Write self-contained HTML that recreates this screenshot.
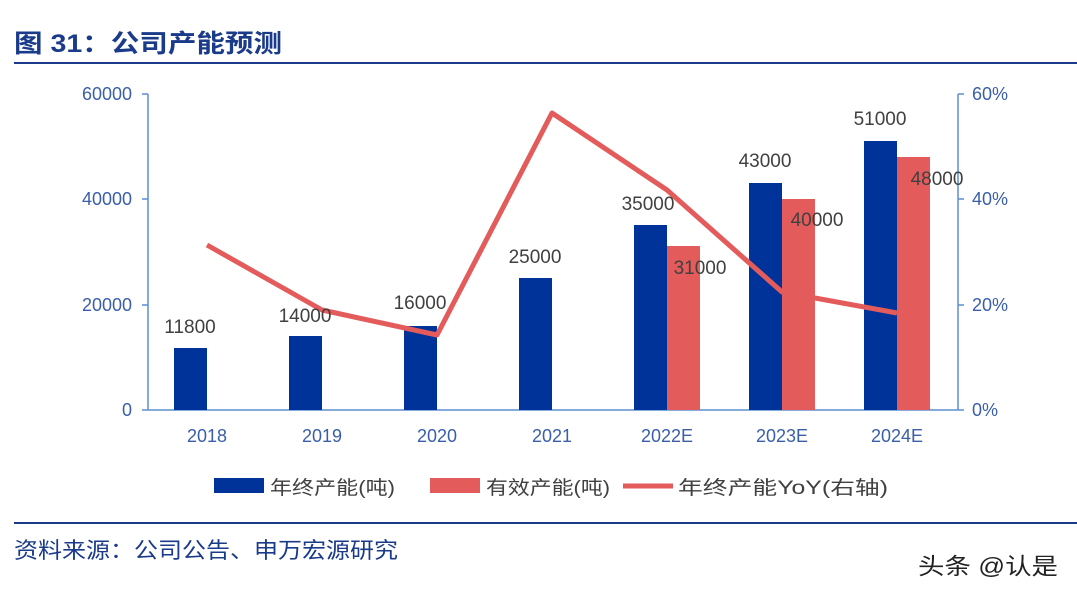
<!DOCTYPE html>
<html><head><meta charset="utf-8"><style>
body{margin:0;width:1077px;height:595px;background:#fff;overflow:hidden;font-family:"Liberation Sans","Noto Sans CJK SC",sans-serif;}
</style></head><body>
<svg width="1077" height="595" xmlns="http://www.w3.org/2000/svg" font-family="Liberation Sans, Noto Sans CJK SC, sans-serif">
<text x="14" y="52" font-size="25" font-weight="bold" fill="#1a3a8a" textLength="268" lengthAdjust="spacingAndGlyphs">图 31：公司产能预测</text>
<line x1="14" y1="63" x2="1077" y2="63" stroke="#1a3a8a" stroke-width="2"/>
<g stroke="#5b8fd0" stroke-width="1.5">
<line x1="148" y1="94" x2="148" y2="410"/>
<line x1="958" y1="94" x2="958" y2="410"/>
<line x1="148" y1="410" x2="958" y2="410"/>
<line x1="142" y1="94" x2="148" y2="94"/><line x1="142" y1="199" x2="148" y2="199"/><line x1="142" y1="305" x2="148" y2="305"/><line x1="142" y1="410" x2="148" y2="410"/>
<line x1="958" y1="94" x2="964" y2="94"/><line x1="958" y1="199" x2="964" y2="199"/><line x1="958" y1="305" x2="964" y2="305"/><line x1="958" y1="410" x2="964" y2="410"/>
</g>
<g font-size="18" fill="#3a5ea8" text-anchor="end">
<text x="132" y="100">60000</text><text x="132" y="205">40000</text><text x="132" y="311">20000</text><text x="132" y="416">0</text>
</g>
<g font-size="18" fill="#3a5ea8" text-anchor="start">
<text x="972" y="100">60%</text><text x="972" y="205">40%</text><text x="972" y="311">20%</text><text x="972" y="416">0%</text>
</g>
<g font-size="18" fill="#3a5ea8" text-anchor="middle">
<text x="207" y="442">2018</text><text x="322" y="442">2019</text><text x="437" y="442">2020</text><text x="552" y="442">2021</text><text x="667" y="442">2022E</text><text x="782" y="442">2023E</text><text x="897" y="442">2024E</text>
</g>
<g fill="#003399">
<rect x="174" y="348" width="33" height="62"/>
<rect x="289" y="336" width="33" height="74"/>
<rect x="404" y="326" width="33" height="84"/>
<rect x="519" y="278" width="33" height="132"/>
<rect x="634" y="225" width="33" height="185"/>
<rect x="749" y="183" width="33" height="227"/>
<rect x="864" y="141" width="33" height="269"/>
</g>
<g fill="#e35b5b">
<rect x="667" y="246" width="33" height="164"/>
<rect x="782" y="199" width="33" height="211"/>
<rect x="897" y="157" width="33" height="253"/>
</g>
<polyline points="207,245 322,310 437,335 552,113 667,190 782,292 897,313" fill="none" stroke="#e35b5b" stroke-width="5" stroke-linejoin="round"/>
<g font-size="19" fill="#404040" text-anchor="middle">
<text x="190" y="333">11800</text><text x="305" y="322">14000</text><text x="420" y="309">16000</text><text x="535" y="263">25000</text>
<text x="648" y="210">35000</text><text x="700" y="274">31000</text><text x="765" y="167">43000</text><text x="817" y="226">40000</text>
<text x="880" y="125">51000</text><text x="937" y="185">48000</text>
</g>
<rect x="214" y="478" width="50" height="15" fill="#003399"/>
<text x="270" y="494" font-size="19" fill="#404040" textLength="125" lengthAdjust="spacingAndGlyphs">年终产能(吨)</text>
<rect x="430" y="478" width="50" height="15" fill="#e35b5b"/>
<text x="486" y="494" font-size="19" fill="#404040" textLength="124" lengthAdjust="spacingAndGlyphs">有效产能(吨)</text>
<line x1="623" y1="486" x2="673" y2="486" stroke="#e35b5b" stroke-width="5"/>
<text x="678" y="494" font-size="19" fill="#404040" textLength="210" lengthAdjust="spacingAndGlyphs">年终产能YoY(右轴)</text>
<line x1="14" y1="523" x2="1077" y2="523" stroke="#1a3a8a" stroke-width="2"/>
<text x="14" y="558" font-size="22" fill="#1a3a8a" textLength="384" lengthAdjust="spacingAndGlyphs">资料来源：公司公告、申万宏源研究</text>
<text x="918" y="574" font-size="23" fill="#222" textLength="140" lengthAdjust="spacingAndGlyphs">头条 @认是</text>
</svg>
</body></html>
